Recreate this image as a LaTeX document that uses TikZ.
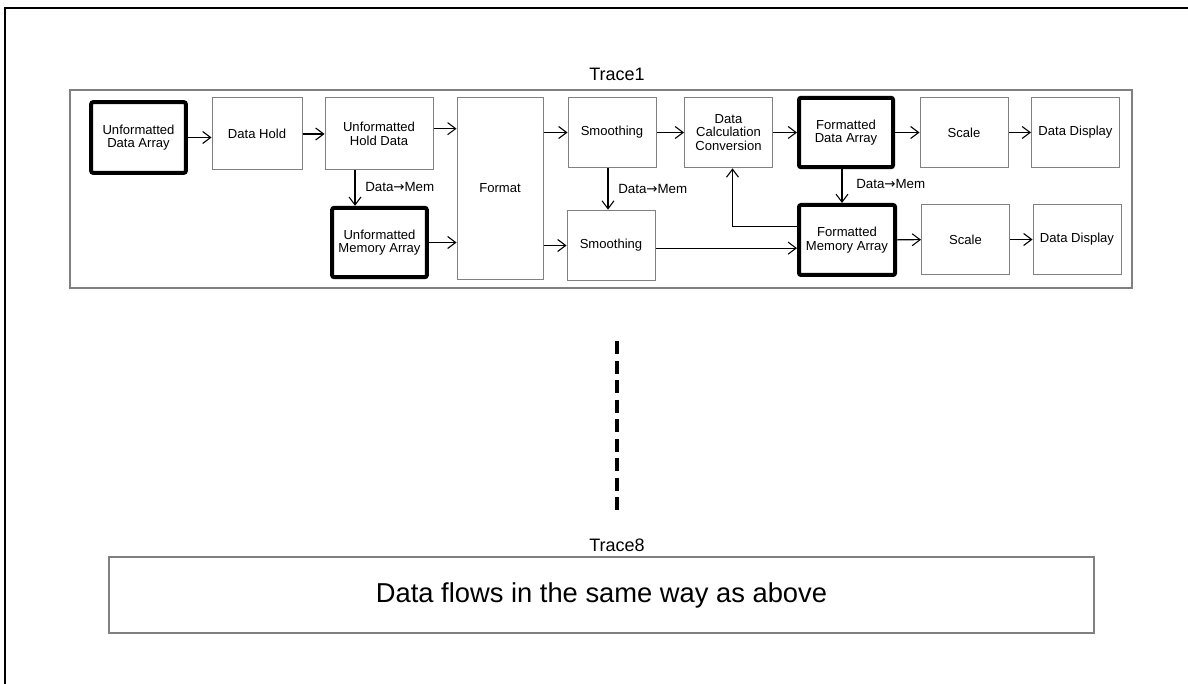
\documentclass[tikz,border=0pt]{standalone}
\usepackage{fontspec}
\setmainfont{Liberation Sans}
\newfontfamily\arrowfont{DejaVu Sans}
\usetikzlibrary{arrows.meta}
\definecolor{boxgray}{RGB}{128,128,128}
\newcommand{\dataMem}{Data{\arrowfont\char"2192}Mem}
\tikzset{
  blk/.style={draw=boxgray, line width=0.75pt, minimum width=66pt, minimum height=53pt, inner sep=1pt, align=center, font=\fontsize{9.8}{10.2}\selectfont},
  arrblk/.style={blk, draw=black, line width=3pt, rounded corners=1.5pt},
  flow/.style={-{Straight Barb[length=6pt,width=9pt]}, line width=0.8pt},
  memlbl/.style={anchor=west, inner sep=0.75pt, font=\fontsize{10}{10}\selectfont},
  title/.style={inner sep=0.75pt, font=\fontsize{13.5}{13.5}\selectfont}
}

\begin{document}
\begin{tikzpicture}[x=0.75pt,y=0.75pt,yscale=-1,xscale=1]
\useasboundingbox (0,0) rectangle (1188,684);

%Outer frame
\draw [line width=1.5pt] (5,684) -- (5,8) -- (1188,8) ;

%Trace frames
\draw [draw=boxgray, line width=1pt] (70,90) rectangle (1132,288) ;
\draw [draw=boxgray, line width=1pt] (109,557) rectangle (1094,633) ;
\node [title] (t1) at (617,74) {Trace1};
\node [title] (t8) at (617,545) {Trace8};

%Upper row
\node [arrblk, minimum width=71pt, minimum height=53pt] (uda) at (138.5,137.5) {Unformatted\\Data Array};
\node [blk, minimum width=67.5pt, minimum height=54pt] (hold) at (257,134) {Data Hold};
\node [blk, minimum width=81pt, minimum height=54pt] (uhd) at (379,134) {Unformatted\\Hold Data};
\node [blk, minimum width=64.5pt, minimum height=136pt] (fmt) at (500,188.5) {Format};
\node [blk] (smt) at (612,132.5) {Smoothing};
\node [blk] (calc) at (728.5,132.5) {Data\\Calculation\\Conversion};
\node [arrblk, minimum width=70.5pt, minimum height=52pt] (fda) at (846,132.5) {Formatted\\Data Array};
\node [blk] (sct) at (964,132.5) {Scale};
\node [blk] (ddt) at (1075.5,132.5) {Data Display};

%Lower row
\node [arrblk, minimum width=71pt, minimum height=52pt] (uma) at (379.5,242.5) {Unformatted\\Memory Array};
\node [blk] (smb) at (611,245.5) {Smoothing};
\node [arrblk, minimum width=72pt, minimum height=52.5pt] (fma) at (847,240) {Formatted\\Memory Array};
\node [blk] (scb) at (965.5,239.5) {Scale};
\node [blk] (ddb) at (1077,239.5) {Data Display};

%Connectors
\draw [flow] (uda.east) -- (uda.east -| hold.west) ;
\draw [flow] (hold) -- (uhd) ;
\draw [flow] ([yshift=-4pt]uhd.east) -- ([yshift=-4pt]uhd.east -| fmt.west) ;
\draw [flow] (uma.east) -- (uma.east -| fmt.west) ;
\draw [flow] (fmt.east |- smt.west) -- (smt.west) ;
\draw [flow] (fmt.east |- smb.west) -- (smb.west) ;
\draw [flow] (smt) -- (calc) ;
\draw [flow] (calc) -- (fda) ;
\draw [flow] (fda) -- (sct) ;
\draw [flow] (sct) -- (ddt) ;
\draw [flow] ([yshift=2pt]smb.east) -- ([yshift=2pt]smb.east -| fma.west) ;
\draw [flow] (fma) -- (scb) ;
\draw [flow] (scb) -- (ddb) ;
\draw [flow] ([yshift=-10pt]fma.west) -| ([xshift=3pt]calc.south) ;

%Data to memory
\draw [flow] ([xshift=-18pt]uhd.south) -- ([xshift=-18pt]uhd.south |- uma.north) ;
\draw [flow] ([xshift=-3pt]smt.south) -- ([xshift=-3pt]smt.south |- smb.north) ;
\draw [flow] ([xshift=-3pt]fda.south) -- ([xshift=-3pt]fda.south |- fma.north) ;
\node [memlbl] (m1) at (364,187) {\dataMem};
\node [memlbl] (m2) at (617,189) {\dataMem};
\node [memlbl] (m3) at (855,184) {\dataMem};

%Dashed separator
\draw [line width=3pt, dash pattern=on 9.75pt off 4.875pt] (617,341) -- (617,510) ;

% Text Node
\node [font=\fontsize{20.5}{20.5}\selectfont] (same) at (601.5,595) {Data flows in the same way as above};

\end{tikzpicture}
\end{document}
